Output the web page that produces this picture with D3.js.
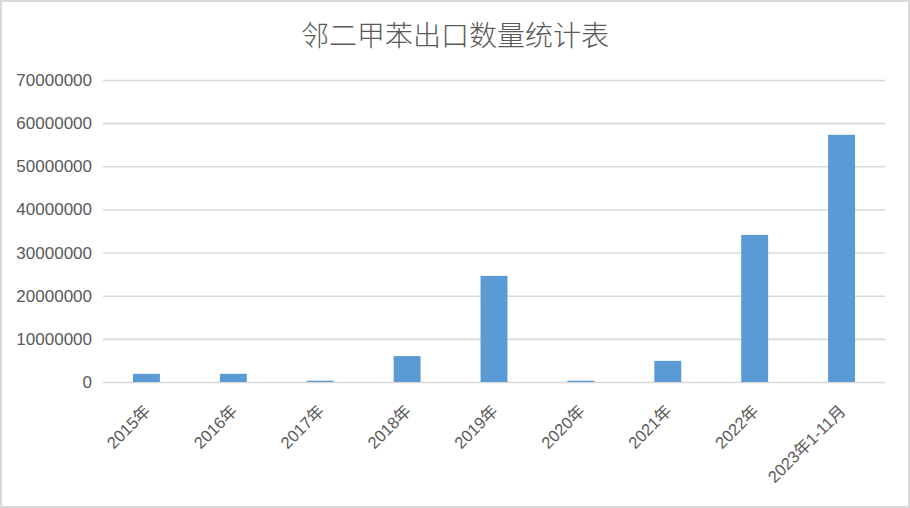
<!DOCTYPE html>
<html>
<head>
<meta charset="utf-8">
<script src="https://cdn.jsdelivr.net/npm/d3@7/dist/d3.min.js"></script>
<style>
  html, body { margin: 0; padding: 0; background: #fff; }
  svg { display: block; }
</style>
</head>
<body>
<svg id="chart"></svg>
<script>
  //---DATA
  var categories = ['2015年', '2016年', '2017年', '2018年', '2019年', '2020年', '2021年', '2022年', '2023年1-11月'];
  var exportQty = [1900000, 1900000, 300000, 6000000, 24600000, 300000, 4900000, 34100000, 57300000];
  var yTicks = [0, 10000000, 20000000, 30000000, 40000000, 50000000, 60000000, 70000000];
  var title = '邻二甲苯出口数量统计表';

  //---SIZES
  var W = 910, H = 508;
  var margin = { top: 80, right: 25, bottom: 126, left: 103 };
  var txtColor = '#595959';

  var svg = d3.select('#chart').attr('width', W).attr('height', H);

  //---BORDER
  svg.append('rect')
    .attr('x', 1).attr('y', 1)
    .attr('width', W - 2).attr('height', H - 2)
    .attr('fill', '#fff')
    .attr('stroke', '#d9d9d9')
    .attr('stroke-width', 2);

  //---SCALES
  var x = d3.scaleBand()
    .domain(categories)
    .range([margin.left, W - margin.right])
    .paddingInner(0.69)
    .paddingOuter(0.345);

  var y = d3.scaleLinear()
    .domain([0, 70000000])
    .range([H - margin.bottom, margin.top]);

  //---TITLE
  svg.append('text')
    .attr('x', W / 2)
    .attr('y', 46)
    .attr('text-anchor', 'middle')
    .style('font-family', '"Noto Sans CJK SC", sans-serif')
    .style('font-weight', 300)
    .style('font-size', '28px')
    .style('fill', txtColor)
    .text(title);

  //---GRID + Y AXIS
  var yAxis = d3.axisLeft(y)
    .tickValues(yTicks)
    .tickSize(-(W - margin.right - margin.left))
    .tickPadding(11)
    .tickFormat(d3.format('d'));

  var gy = svg.append('g')
    .attr('transform', 'translate(' + margin.left + ',0)')
    .call(yAxis);
  gy.select('.domain').remove();
  gy.selectAll('.tick line')
    .attr('stroke', '#d9d9d9')
    .attr('stroke-width', 1.6);
  gy.selectAll('.tick text')
    .style('font-family', '"Liberation Sans", Arial, sans-serif')
    .style('font-size', '17px')
    .style('fill', txtColor);

  //---BARS
  svg.append('g')
    .selectAll('rect')
    .data(exportQty)
    .enter()
    .append('rect')
    .attr('x', function(d, i) { return x(categories[i]); })
    .attr('y', function(d) { return y(d); })
    .attr('width', x.bandwidth())
    .attr('height', function(d) { return y(0) - y(d); })
    .attr('fill', '#5b9bd5');

  //---X LABELS
  svg.append('g')
    .selectAll('text')
    .data(categories)
    .enter()
    .append('text')
    .attr('transform', function(d) {
      var cx = x(d) + x.bandwidth() / 2;
      return 'translate(' + (cx + 5) + ',' + 412 + ') rotate(-45)';
    })
    .attr('text-anchor', 'end')
    .style('font-family', '"Liberation Sans", Arial, "Noto Sans CJK SC", sans-serif')
    .style('font-size', '16.5px')
    .style('fill', txtColor)
    .text(function(d) { return d; });
</script>
</body>
</html>
